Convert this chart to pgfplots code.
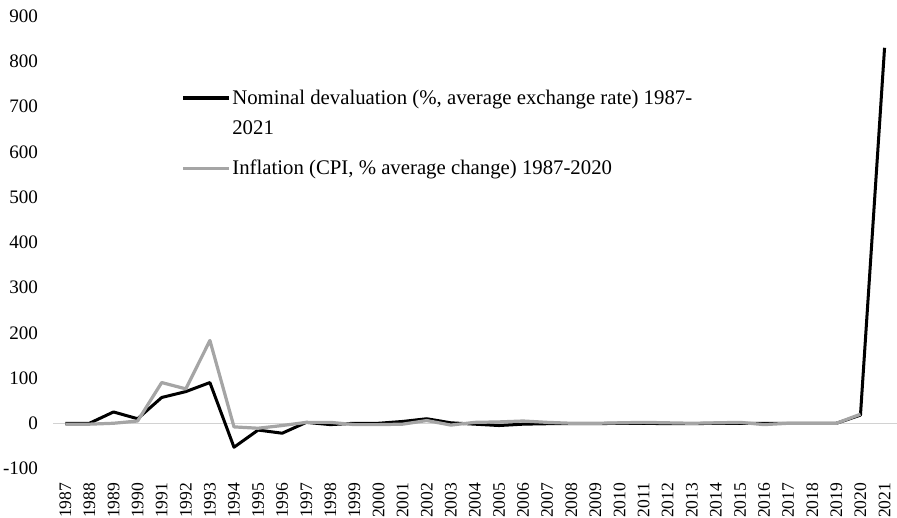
\documentclass[border=0pt]{standalone}
\usepackage{fontspec}
\setmainfont{Liberation Serif}
\usepackage{pgfplots}
\pgfplotsset{compat=1.18}
\definecolor{infl}{HTML}{A5A5A5}
\pgfplotsset{
  upleg/.style={legend image code/.code={\draw[##1, line width=3.2pt] (0bp,15bp) -- (45bp,15bp);}},
  midleg/.style={legend image code/.code={\draw[##1, line width=3.2pt] (0bp,0bp) -- (45bp,0bp);}},
}
\begin{document}
\begin{tikzpicture}
\begin{axis}[
  scale only axis,
  width=837bp, height=449bp,
  xmin=-0.5, xmax=34.5,
  ymin=-100, ymax=900,
  ytick={-100,0,...,900},
  xtick={0,...,34},
  xticklabels={1987,1988,1989,1990,1991,1992,1993,1994,1995,1996,1997,1998,1999,2000,2001,2002,2003,2004,2005,2006,2007,2008,2009,2010,2011,2012,2013,2014,2015,2016,2017,2018,2019,2020,2021},
  x tick label style={rotate=90, anchor=east, inner sep=0pt, font=\fontsize{17.5}{19}\selectfont},
  xticklabel shift=14bp,
  xtick pos=bottom, ytick pos=left,
  major tick length=0pt,
  axis line style={draw=none},
  /pgf/number format/assume math mode=true,
  yticklabel style={/pgf/number format/1000 sep={}, inner sep=3bp, font=\fontsize{19}{20}\selectfont},
  yticklabel shift=12bp,
  extra y ticks={0}, extra y tick labels={},
  extra y tick style={grid=major, major grid style={draw=gray!35, line width=0.8pt}},
  legend style={at={(axis cs:4.7,746)}, anchor=north west, draw=none, fill=none,
    font=\fontsize{20.7}{30}\selectfont, cells={align=left}, row sep=20bp},
  legend cell align=left,
]
\addplot[black, line width=3pt, line join=round, upleg] coordinates {
(0,0) (1,0) (2,25) (3,10) (4,57) (5,70) (6,90) (7,-53) (8,-15) (9,-22)
(10,2) (11,-3) (12,0) (13,0) (14,4) (15,10) (16,1) (17,-2) (18,-5) (19,-2)
(20,-1) (21,-1) (22,-1) (23,0) (24,0) (25,-1) (26,-1) (27,0) (28,0) (29,0)
(30,0) (31,0) (32,0) (33,18) (34,830)};
\addlegendentry{Nominal devaluation (\%, average exchange rate) 1987-\\2021}
\addplot[infl, line width=3.2pt, line join=round, midleg] coordinates {
(0,-2) (1,-2) (2,0) (3,5) (4,90) (5,76) (6,183) (7,-8) (8,-11) (9,-5)
(10,2) (11,2) (12,-3) (13,-3) (14,-2) (15,6) (16,-4) (17,2) (18,3) (19,5)
(20,2) (21,0) (22,0) (23,1) (24,2) (25,1) (26,0) (27,1) (28,2) (29,-3)
(30,0) (31,0) (32,0) (33,20)};
\addlegendentry{Inflation (CPI, \% average change) 1987-2020}
\end{axis}
\path (current axis.north west) -- ++(0,16bp);
\end{tikzpicture}
\end{document}
